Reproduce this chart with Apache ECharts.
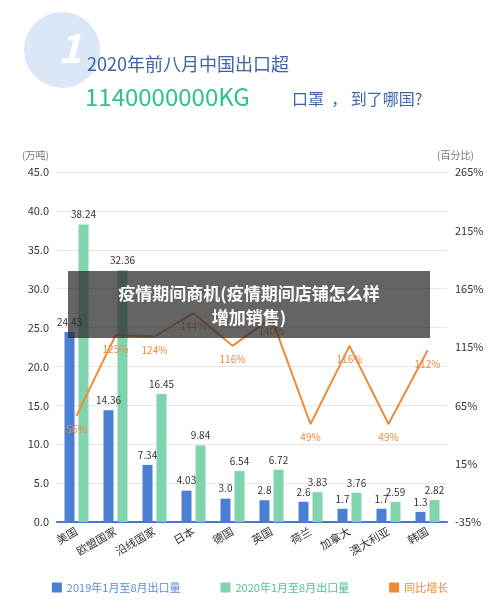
<!DOCTYPE html>
<html><head><meta charset="utf-8">
<script src="https://cdn.jsdelivr.net/npm/echarts@6/dist/echarts.min.js"></script>
<style>html,body{margin:0;padding:0;background:#fff}#c{width:500px;height:612px}</style>
</head><body><div id="c"></div>
<script>
const categories = ['美国','欧盟国家','沿线国家','日本','德国','英国','荷兰','加拿大','澳大利亚','韩国'];
const exports2019 = [24.43,14.36,7.34,4.03,3.0,2.8,2.6,1.7,1.7,1.3];
const exports2020 = [38.24,32.36,16.45,9.84,6.54,6.72,3.83,3.76,2.59,2.82];
const growth = [56,125,124,144,116,140,49,116,49,112];
const leftTicks = [0,5,10,15,20,25,30,35,40,45];
const F = '"Noto Sans CJK SC","Noto Sans",sans-serif';
const chart = echarts.init(document.getElementById('c'));
chart.setOption({
  animation:false,
  textStyle:{fontFamily:F},
  grid:{left:57,right:53,top:172,bottom:90},
  legend:{bottom:14,left:'center',itemGap:40,itemWidth:10,itemHeight:10,
    textStyle:{fontSize:11,color:'#5b8ad6',fontFamily:F},
    data:[{name:'2019年1月至8月出口量',icon:'rect',textStyle:{color:'#5b8ad6'}},
          {name:'2020年1月至8月出口量',icon:'rect',textStyle:{color:'#4fbf8f'}},
          {name:'同比增长',icon:'rect',itemStyle:{color:'#ef8a3a'},textStyle:{color:'#ef8a3a'}}]},
  graphic:[
    {type:'circle',shape:{cx:62,cy:50,r:38},style:{fill:'#dbe6f6'}},
    {type:'text',left:58,top:28,style:{text:'1',fill:'#fff',font:'italic bold 40px '+F}},
    {type:'text',left:87,top:55,style:{text:'2020年前八月中国出口超',fill:'#3e64a8',font:'18px '+F}},
    {type:'text',left:85,top:85,style:{text:'1140000000KG',fill:'#2ec38a',font:'24px '+F}},
    {type:'text',left:292,top:91,style:{text:'口罩  ， 到了哪国?',fill:'#3e64a8',font:'16px '+F}},
    {type:'text',left:22,top:150,style:{text:'(万吨)',fill:'#777',font:'10px '+F}},
    {type:'text',left:437,top:150,style:{text:'(百分比)',fill:'#777',font:'10px '+F}},
    {type:'rect',shape:{x:68,y:271,width:362,height:67},style:{fill:'rgba(40,40,40,0.72)'},z:100},
    {type:'text',x:249,y:285,z:101,style:{text:'疫情期间商机(疫情期间店铺怎么样',fill:'#fff',font:'bold 17px '+F,textAlign:'center'}},
    {type:'text',x:249,y:309,z:101,style:{text:'增加销售)',fill:'#fff',font:'bold 17px '+F,textAlign:'center'}}
  ],
  xAxis:{type:'category',data:categories,axisTick:{show:false},
    axisLine:{lineStyle:{color:'#4a78c8',width:2}},
    axisLabel:{rotate:30,color:'#333',fontSize:11,interval:0,margin:8}},
  yAxis:[
    {type:'value',min:0,max:45,interval:5,splitLine:{lineStyle:{color:'#e6e6e6'}},
     axisLabel:{color:'#333',fontSize:11,formatter:v=>v.toFixed(1)}},
    {type:'value',min:-35,max:265,interval:50,position:'right',splitLine:{show:false},
     axisLabel:{color:'#333',fontSize:11,formatter:'{value}%'}}
  ],
  series:[
    {name:'2019年1月至8月出口量',type:'bar',data:exports2019,barWidth:10,barGap:'40%',
     itemStyle:{color:'#4a7fd4'},label:{show:true,position:'top',color:'#333',fontSize:10,
     formatter:p=>(p.value===3?'3.0':String(p.value))}},
    {name:'2020年1月至8月出口量',type:'bar',data:exports2020,barWidth:10,
     itemStyle:{color:'#7fd3ad'},label:{show:true,position:'top',color:'#333',fontSize:10}},
    {name:'同比增长',type:'line',yAxisIndex:1,data:growth,symbol:'circle',symbolSize:1,showSymbol:true,
     lineStyle:{color:'#ef8a3a',width:2},itemStyle:{color:'#ef8a3a'},
     label:{show:true,position:'bottom',distance:8,color:'#ef8a3a',fontSize:10,formatter:'{c}%'},
     labelLayout:{hideOverlap:false}}
  ]
});
</script></body></html>
